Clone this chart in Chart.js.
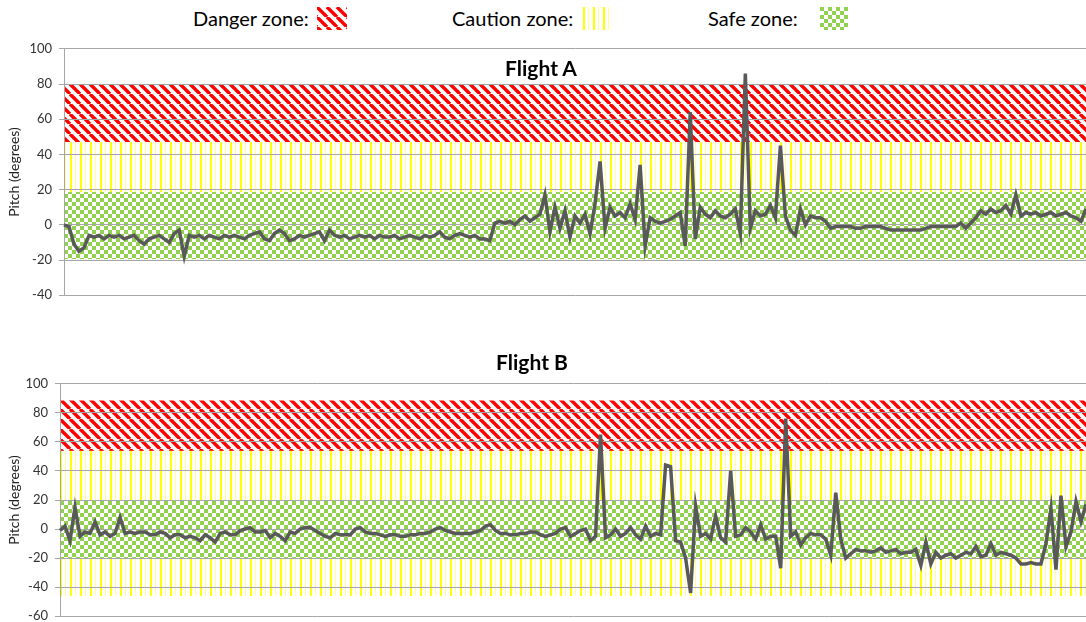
<!DOCTYPE html>
<html>
<head>
<meta charset="utf-8">
<script src="https://cdn.jsdelivr.net/npm/chart.js@4/dist/chart.umd.min.js"></script>
<style>
  body { margin: 0; width: 1086px; height: 622px; overflow: hidden; background: #fff; position: relative; font-family: Lato, "Open Sans", sans-serif; }
  .lbl { position: absolute; top: 4px; font-size: 20px; color: #000; line-height: 28px; white-space: nowrap; }
  .sw { position: absolute; top: 7px; }
  .title { position: absolute; font-size: 21px; font-weight: bold; color: #000; white-space: nowrap; transform: translateX(-50%); }
  #wrapA { position: absolute; left: 0; top: 34px; width: 1086px; height: 276px; }
  #wrapB { position: absolute; left: 0; top: 369px; width: 1086px; height: 262px; }
</style>
</head>
<body>
<div class="lbl" style="left:193px">Danger zone:</div>
<canvas class="sw" id="swDanger" width="30" height="23" style="left:317px"></canvas>
<div class="lbl" style="left:452px">Caution zone:</div>
<canvas class="sw" id="swCaution" width="29" height="23" style="left:583px"></canvas>
<div class="lbl" style="left:708px">Safe zone:</div>
<canvas class="sw" id="swSafe" width="28" height="23" style="left:820px"></canvas>

<div id="wrapA"><canvas id="flightA"></canvas></div>
<div id="wrapB"><canvas id="flightB"></canvas></div>
<div class="title" style="left:541px; top:55px">Flight A</div>
<div class="title" style="left:532px; top:349px">Flight B</div>

<script>
// pitch samples (evenly spaced in time)
const pitchA = [
  0, -1, -11, -15, -13, -6, -7, -6, -8, -6,
  -7, -6, -8, -7, -6, -9, -11, -8, -7, -6,
  -8, -10, -5, -3, -18, -6, -7, -6, -8, -6,
  -7, -8, -6, -7, -6, -7, -8, -6, -5, -4,
  -8, -9, -5, -3, -5, -9, -8, -6, -7, -6,
  -5, -4, -9, -3, -6, -7, -6, -8, -7, -6,
  -7, -6, -8, -6, -7, -7, -6, -8, -7, -6,
  -7, -8, -6, -7, -6, -4, -7, -8, -6, -5,
  -6, -7, -6, -8, -8, -9, 1, 2, 1, 2,
  0, 3, 5, 2, 4, 6, 17, -4, 10, -2,
  8, -7, 5, 1, 6, -5, 12, 36, -2, 10,
  5, 7, 4, 12, 3, 34, -12, 4, 2, 1,
  2, 3, 5, 7, -12, 64, -8, 10, 6, 4,
  8, 5, 4, 6, 9, -5, 86, -2, 8, 5,
  6, 11, 4, 45, 5, -3, -6, 9, 0, 5,
  4, 4, 2, -2, -1, -1, -1, -1, -2, -2,
  -1, -1, -1, -1, -2, -3, -3, -3, -3, -3,
  -3, -3, -2, -1, -1, -1, -1, -1, -1, 1,
  -2, 1, 4, 8, 6, 9, 7, 8, 11, 6,
  17, 5, 7, 6, 7, 5, 6, 7, 5, 6,
  7, 5, 4, 2, 9
];
const pitchB = [
  -1, 2, -8, 15, -5, -2, -3, 5, -4, -2,
  -5, -3, 8, -3, -2, -3, -2, -2, -4, -4,
  -2, -3, -6, -4, -4, -6, -5, -6, -8, -4,
  -6, -9, -3, -2, -4, -4, -1, 0, 1, -2,
  -2, -1, -6, -3, -5, -8, -2, -3, 0, 1,
  1, -1, -3, -5, -6, -3, -4, -4, -4, 0,
  1, -2, -3, -3, -4, -5, -4, -4, -5, -5,
  -4, -4, -3, -3, -2, 0, 1, -1, -2, -3,
  -3, -3, -3, -2, -1, 2, 3, -1, -3, -3,
  -4, -4, -3, -3, -2, -2, -4, -5, -4, -3,
  0, 1, -5, -3, -1, 0, -8, -5, 65, -6,
  -4, 0, -5, -3, 1, -4, -7, 2, -5, -3,
  -4, 44, 43, -8, -9, -20, -44, 16, -5, -3,
  -7, 9, -6, -9, 40, -5, -4, 1, -2, -7,
  3, -7, -5, -5, -27, 76, -5, -2, -11, -6,
  -3, -4, -4, -7, -18, 25, -7, -20, -17, -14,
  -15, -15, -16, -15, -13, -16, -15, -14, -17, -16,
  -16, -14, -25, -9, -24, -16, -20, -18, -17, -20,
  -18, -16, -17, -12, -19, -18, -10, -18, -16, -17,
  -18, -20, -24, -24, -23, -24, -24, -10, 14, -28,
  23, -12, -2, 19, 5, 17
];

// y axis tick labels
const ticksA = [-40, -20, 0, 20, 40, 60, 80, 100];
const ticksB = [-60, -40, -20, 0, 20, 40, 60, 80, 100];

// zone bands [from, to] in degrees
const dangerA = [47, 79.5];
const cautionA = [18.6, 47];
const safeA = [-19.5, 18.6];
const dangerB = [53.8, 88.5];
const cautionB = [20, 53.8];
const cautionLowB = [-46, -20];
const safeB = [-20, 20];

function tile(w, h, draw) {
  const c = document.createElement("canvas");
  c.width = w; c.height = h;
  draw(c.getContext("2d"));
  return c;
}

const tiles = {
  danger: tile(10, 10, g => {
    g.fillStyle = "#fff"; g.fillRect(0, 0, 10, 10);
    g.strokeStyle = "#ff0000"; g.lineWidth = 3.4;
    [-10, 0, 10].forEach(o => {
      g.beginPath(); g.moveTo(o, 0); g.lineTo(o + 10, 10); g.stroke();
    });
  }),
  caution: tile(10, 10, g => {
    g.fillStyle = "#fff"; g.fillRect(0, 0, 10, 10);
    g.fillStyle = "#ffff00"; g.fillRect(0, 0, 2, 10);
    g.fillStyle = "#ffff9a"; g.fillRect(5, 0, 1, 10);
  }),
  safe: tile(8, 8, g => {
    g.fillStyle = "#fff"; g.fillRect(0, 0, 8, 8);
    g.fillStyle = "#92d050"; g.fillRect(0, 0, 4, 4); g.fillRect(4, 4, 4, 4);
  })
};

function pattern(ctx, kind) {
  return ctx.createPattern(tiles[kind], "repeat");
}

// legend swatches
[["swDanger", "danger"], ["swCaution", "caution"], ["swSafe", "safe"]].forEach(([id, kind]) => {
  const c = document.getElementById(id);
  const g = c.getContext("2d");
  g.fillStyle = pattern(g, kind);
  g.fillRect(0, 0, c.width, c.height);
});

const zonesPlugin = {
  id: "zones",
  beforeDraw(chart, args, opts) {
    const { ctx, chartArea: a, scales: { y } } = chart;
    ctx.save();
    opts.bands.forEach(([kind, band]) => {
      const top = y.getPixelForValue(band[1]);
      const bot = y.getPixelForValue(band[0]);
      ctx.fillStyle = pattern(ctx, kind);
      ctx.fillRect(a.left, top, a.right - a.left, bot - top);
    });
    ctx.restore();
  }
};

function makeChart(id, values, ticks, bands, axisLeft, padTop, padBottom) {
  return new Chart(document.getElementById(id), {
    type: "line",
    data: {
      labels: values.map((v, i) => i),
      datasets: [{
        data: values,
        borderColor: "#595959",
        borderWidth: 3.5,
        pointRadius: 0,
        tension: 0,
        fill: false
      }]
    },
    options: {
      responsive: true,
      maintainAspectRatio: false,
      animation: false,
      layout: { padding: { top: padTop, bottom: padBottom, left: 0, right: 0 } },
      plugins: {
        legend: { display: false },
        tooltip: { enabled: false },
        zones: { bands: bands }
      },
      scales: {
        x: { display: false, offset: false },
        y: {
          min: ticks[0],
          max: ticks[ticks.length - 1],
          afterFit: s => { s.width = axisLeft; },
          ticks: { stepSize: 20, color: "#333", padding: 7, font: { family: "Lato", size: 13 } },
          grid: { color: "#a6a6a6", lineWidth: 1, tickLength: 5 },
          border: { color: "#a6a6a6" },
          title: {
            display: true,
            text: "Pitch (degrees)",
            color: "#222",
            padding: { top: 6, bottom: 0 },
            font: { family: "Lato", size: 14 }
          }
        }
      }
    },
    plugins: [zonesPlugin]
  });
}

makeChart("flightA", pitchA, ticksA,
  [["danger", dangerA], ["caution", cautionA], ["safe", safeA]], 64, 8, 0);
makeChart("flightB", pitchB, ticksB,
  [["danger", dangerB], ["caution", cautionB], ["caution", cautionLowB], ["safe", safeB]], 60, 8, 0);
</script>
</body>
</html>
